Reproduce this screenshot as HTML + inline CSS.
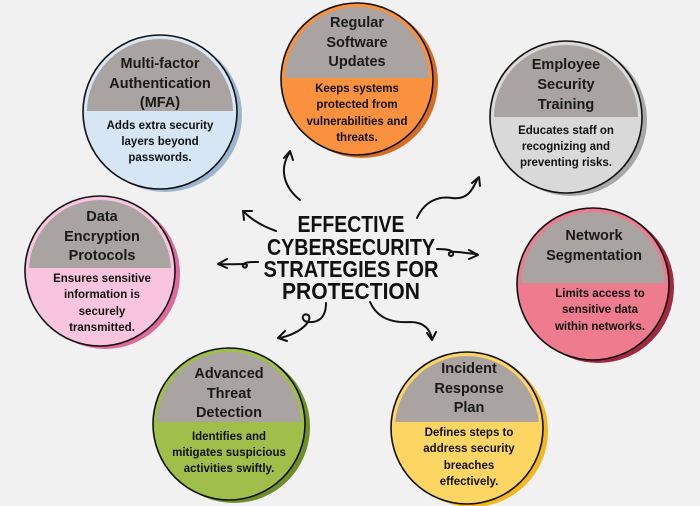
<!DOCTYPE html>
<html><head><meta charset="utf-8"><style>
html,body{margin:0;padding:0;background:#f1f1f1;}
svg{display:block;}
text{font-family:"Liberation Sans",sans-serif;font-weight:bold;fill:#1a1a1a;text-anchor:middle;}
.h{font-size:14.5px;}
.b{font-size:11.5px;fill:#111;}
.t{font-size:23px;fill:#111;}
.a{fill:none;stroke:#111;stroke-width:2;stroke-linecap:round;stroke-linejoin:round;}
</style></head><body>
<svg width="700" height="506" viewBox="0 0 700 506" xmlns="http://www.w3.org/2000/svg">
<rect width="700" height="506" fill="#f1f1f1"/>
<defs>
<clipPath id="c1"><circle cx="160" cy="112" r="73"/></clipPath>
<clipPath id="c2"><circle cx="357" cy="79" r="72"/></clipPath>
<clipPath id="c3"><circle cx="566" cy="117" r="72"/></clipPath>
<clipPath id="c4"><circle cx="100" cy="271" r="71"/></clipPath>
<clipPath id="c5"><circle cx="593" cy="284" r="72"/></clipPath>
<clipPath id="c6"><circle cx="229" cy="424" r="72"/></clipPath>
<clipPath id="c7"><circle cx="467" cy="428" r="72"/></clipPath>
</defs>

<circle cx="165" cy="115" r="77" fill="#9cb6d1"/>
<circle cx="160" cy="112" r="77" fill="#d6e6f4" stroke="#111" stroke-width="1.6"/>
<rect x="80" y="30" width="160" height="81" fill="#a9a3a1" clip-path="url(#c1)"/>
<text class="h" x="160" y="68">Multi-factor</text>
<text class="h" x="160" y="88">Authentication</text>
<text class="h" x="160" y="107">(MFA)</text>
<text class="b" x="160" y="129">Adds extra security</text>
<text class="b" x="160" y="145">layers beyond</text>
<text class="b" x="160" y="161">passwords.</text>

<circle cx="362" cy="82" r="76" fill="#d86b1f"/>
<circle cx="357" cy="79" r="76" fill="#f9913f" stroke="#111" stroke-width="1.6"/>
<rect x="280" y="0" width="160" height="78" fill="#a9a3a1" clip-path="url(#c2)"/>
<text class="h" x="357" y="27">Regular</text>
<text class="h" x="357" y="47">Software</text>
<text class="h" x="357" y="66">Updates</text>
<text class="b" x="357" y="92">Keeps systems</text>
<text class="b" x="357" y="108">protected from</text>
<text class="b" x="357" y="125">vulnerabilities and</text>
<text class="b" x="357" y="141">threats.</text>

<circle cx="571" cy="120" r="76" fill="#a8a8a8"/>
<circle cx="566" cy="117" r="76" fill="#d9d9d9" stroke="#111" stroke-width="1.6"/>
<rect x="486" y="35" width="160" height="82" fill="#a9a3a1" clip-path="url(#c3)"/>
<text class="h" x="566" y="69">Employee</text>
<text class="h" x="566" y="89">Security</text>
<text class="h" x="566" y="109">Training</text>
<text class="b" x="566" y="134">Educates staff on</text>
<text class="b" x="566" y="150">recognizing and</text>
<text class="b" x="566" y="166">preventing risks.</text>

<circle cx="105" cy="274" r="75" fill="#e0699b"/>
<circle cx="100" cy="271" r="75" fill="#f9c5de" stroke="#111" stroke-width="1.6"/>
<rect x="20" y="190" width="160" height="78" fill="#a9a3a1" clip-path="url(#c4)"/>
<text class="h" x="102" y="221">Data</text>
<text class="h" x="102" y="241">Encryption</text>
<text class="h" x="102" y="260">Protocols</text>
<text class="b" x="102" y="282">Ensures sensitive</text>
<text class="b" x="102" y="298">information is</text>
<text class="b" x="102" y="315">securely</text>
<text class="b" x="102" y="331">transmitted.</text>

<circle cx="598" cy="287" r="76" fill="#a3283d"/>
<circle cx="593" cy="284" r="76" fill="#ee7b8e" stroke="#111" stroke-width="1.6"/>
<rect x="513" y="200" width="160" height="83" fill="#a9a3a1" clip-path="url(#c5)"/>
<text class="h" x="594" y="240">Network</text>
<text class="h" x="594" y="260">Segmentation</text>
<text class="b" x="600" y="297">Limits access to</text>
<text class="b" x="600" y="313">sensitive data</text>
<text class="b" x="600" y="330">within networks.</text>

<circle cx="234" cy="427" r="76" fill="#6d8f25"/>
<circle cx="229" cy="424" r="76" fill="#9fbf4a" stroke="#111" stroke-width="1.6"/>
<rect x="149" y="340" width="160" height="82" fill="#a9a3a1" clip-path="url(#c6)"/>
<text class="h" x="229" y="378">Advanced</text>
<text class="h" x="229" y="398">Threat</text>
<text class="h" x="229" y="417">Detection</text>
<text class="b" x="229" y="440">Identifies and</text>
<text class="b" x="229" y="456">mitigates suspicious</text>
<text class="b" x="229" y="472">activities swiftly.</text>

<circle cx="472" cy="431" r="76" fill="#f2b81c"/>
<circle cx="467" cy="428" r="76" fill="#fcd562" stroke="#111" stroke-width="1.6"/>
<rect x="387" y="345" width="160" height="77" fill="#a9a3a1" clip-path="url(#c7)"/>
<text class="h" x="469" y="373">Incident</text>
<text class="h" x="469" y="393">Response</text>
<text class="h" x="469" y="412">Plan</text>
<text class="b" x="469" y="436">Defines steps to</text>
<text class="b" x="469" y="452">address security</text>
<text class="b" x="469" y="469">breaches</text>
<text class="b" x="469" y="485">effectively.</text>

<text class="t" x="351" y="232" textLength="107" lengthAdjust="spacingAndGlyphs">EFFECTIVE</text>
<text class="t" x="351" y="255" textLength="168" lengthAdjust="spacingAndGlyphs">CYBERSECURITY</text>
<text class="t" x="351" y="277" textLength="175" lengthAdjust="spacingAndGlyphs">STRATEGIES FOR</text>
<text class="t" x="351" y="299" textLength="138" lengthAdjust="spacingAndGlyphs">PROTECTION</text>

<path class="a" d="M300 200 C285 188 278 170 290 152"/>
<path class="a" d="M284 158 L290 151 L293 160"/>
<path class="a" d="M276 231 C262 226 252 220 244 212"/>
<path class="a" d="M244 220 L243 211 L252 211"/>
<path class="a" d="M258 262 C250 262 244 262 243 265 C242 268 247 269 247 265 C246 263 236 265 219 264"/>
<path class="a" d="M227 259 L218 264 L227 268"/>
<path class="a" d="M326 303 C326 318 318 323 308 322 C300 321 302 312 308 315 C313 318 305 332 280 338"/>
<path class="a" d="M285 331 L278 338 L287 341"/>
<path class="a" d="M370 302 C378 320 395 323 410 322 C425 322 430 330 432 339"/>
<path class="a" d="M427 333 L432 340 L436 332"/>
<path class="a" d="M437 249 C447 249 452 250 453 253 C454 257 448 257 449 253 C452 250 462 253 477 254"/>
<path class="a" d="M469 250 L478 255 L469 259"/>
<path class="a" d="M417 218 C425 200 440 196 452 198 C468 200 472 190 478 178"/>
<path class="a" d="M472 183 L479 177 L480 186"/>
</svg>
</body></html>
